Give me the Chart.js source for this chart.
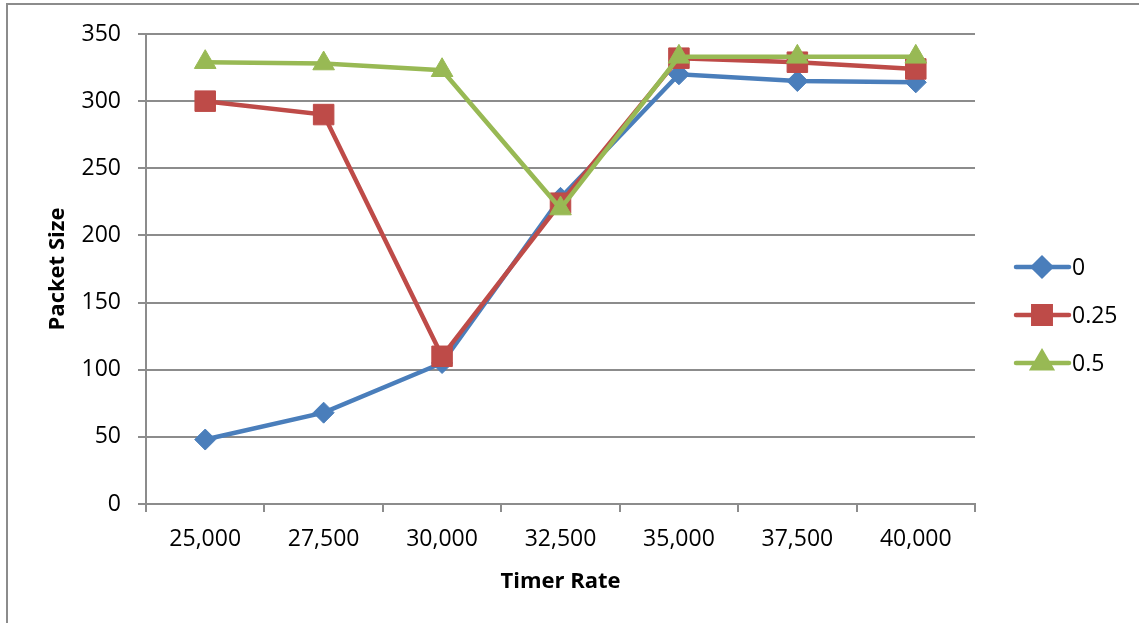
<!DOCTYPE html>
<html>
<head>
<meta charset="utf-8">
<script src="https://cdn.jsdelivr.net/npm/chart.js@4"></script>
<style>
  html, body { margin: 0; padding: 0; background: #fff; }
  #wrap { width: 1139px; height: 623px; position: relative; }
</style>
</head>
<body>
<div id="wrap"><canvas id="c" width="1139" height="623"></canvas></div>
<script>
// Timer rate categories and packet sizes per threshold series
const timerRates = ['25,000', '27,500', '30,000', '32,500', '35,000', '37,500', '40,000'];
const seriesLabels = ['0', '0.25', '0.5'];
const size0   = [48, 68, 105, 228, 320, 315, 314];
const size025 = [300, 290, 110, 224, 332, 329, 324];
const size05  = [329, 328, 323, 220, 333, 333, 333];
const yTicks  = [0, 50, 100, 150, 200, 250, 300, 350];

const FONT = 'Open Sans';
const GRID = '#8c8c8c';

function series(label, values, color, style, radius, order) {
  return {
    label, data: values, order,
    borderColor: color, backgroundColor: color,
    borderWidth: 4.5, tension: 0,
    pointStyle: style, pointRadius: radius, pointHoverRadius: radius,
    pointBorderWidth: 1, pointBorderColor: color, pointBackgroundColor: color
  };
}

// Frame around the figure and a legend with line + marker samples
const decor = {
  id: 'decor',
  beforeDraw(chart) {
    const ctx = chart.ctx;
    ctx.save();
    ctx.strokeStyle = GRID;
    ctx.lineWidth = 2;
    ctx.beginPath();
    ctx.moveTo(7, 623);
    ctx.lineTo(7, 4);
    ctx.lineTo(1139, 4);
    ctx.stroke();
    ctx.restore();
  },
  afterDraw(chart) {
    const ctx = chart.ctx;
    const ys = [267, 315, 363];
    ctx.save();
    chart.data.datasets.forEach((ds, i) => {
      const y = ys[i];
      ctx.strokeStyle = ds.borderColor;
      ctx.lineWidth = 4.5;
      ctx.lineCap = 'round';
      ctx.beginPath();
      ctx.moveTo(1016, y);
      ctx.lineTo(1069, y);
      ctx.stroke();
      Chart.helpers.drawPoint(ctx, {
        pointStyle: ds.pointStyle, radius: ds.pointRadius * 0.85, rotation: 0, borderWidth: 1
      }, 1042, y);
      ctx.fillStyle = ds.backgroundColor;
      ctx.fill();
      ctx.fillStyle = '#000';
      ctx.font = '23px "' + FONT + '"';
      ctx.textBaseline = 'middle';
      ctx.textAlign = 'left';
      ctx.fillText(ds.label, 1072, y + 1);
    });
    ctx.restore();
  }
};

new Chart(document.getElementById('c'), {
  type: 'line',
  data: {
    labels: timerRates,
    datasets: [
      series(seriesLabels[0], size0,   '#4a7ebb', 'rectRot', 10.5, 2),
      series(seriesLabels[1], size025, '#be4b48', 'rect',    14.5, 1),
      series(seriesLabels[2], size05,  '#98b954', 'triangle', 12.5, 0)
    ]
  },
  options: {
    responsive: false,
    animation: false,
    events: [],
    layout: { padding: { left: 41, right: 164, top: 34, bottom: 24 } },
    plugins: { legend: { display: false }, tooltip: { enabled: false } },
    scales: {
      x: {
        offset: true,
        afterFit(scale) { scale.height = 95; },
        grid: { offset: true, drawOnChartArea: false, drawTicks: true, tickLength: 8, color: GRID, lineWidth: 2 },
        border: { color: GRID, width: 2 },
        ticks: { color: '#000', font: { family: FONT, size: 23 }, padding: 14, maxRotation: 0 },
        title: { display: true, text: 'Timer Rate', color: '#000', font: { family: FONT, size: 22, weight: 'bold' } }
      },
      y: {
        min: 0, max: 350,
        afterBuildTicks(scale) { scale.ticks = yTicks.map(v => ({ value: v })); },
        afterFit(scale) { scale.width = 105; },
        grid: { color: GRID, lineWidth: 2, tickLength: 8 },
        border: { color: GRID, width: 2 },
        ticks: { color: '#000', font: { family: FONT, size: 23 }, padding: 17 },
        title: { display: true, text: 'Packet Size', color: '#000', font: { family: FONT, size: 22, weight: 'bold' } }
      }
    }
  },
  plugins: [decor]
});
</script>
</body>
</html>
